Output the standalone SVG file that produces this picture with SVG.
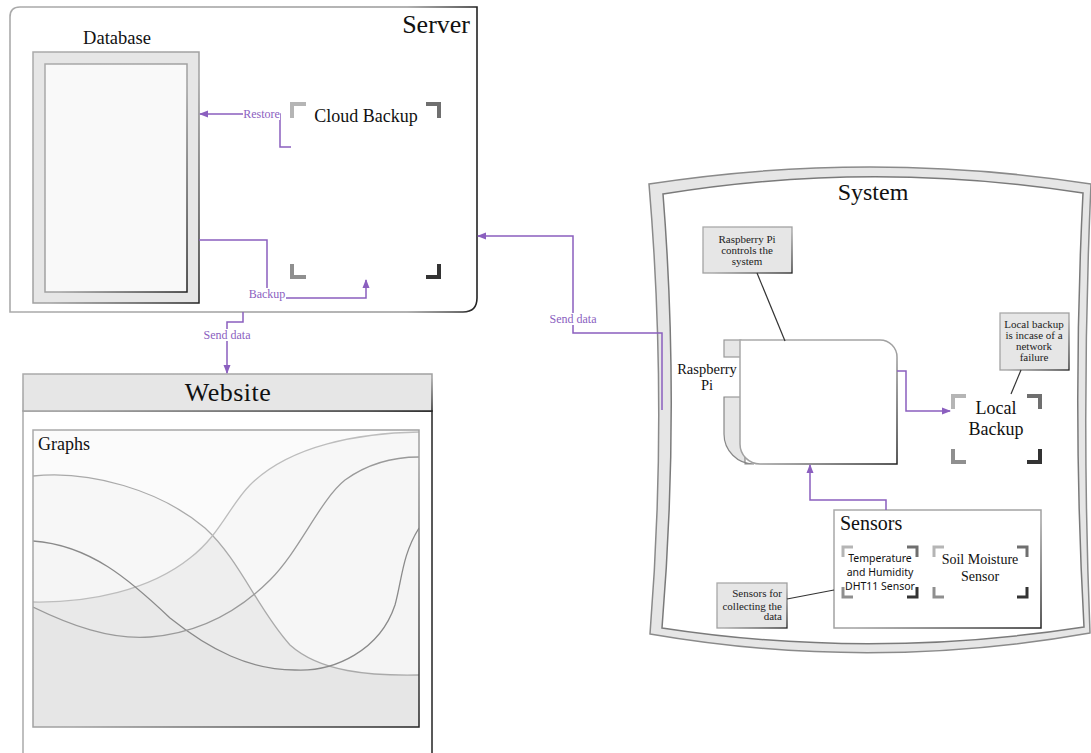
<svg xmlns="http://www.w3.org/2000/svg" width="1091" height="753" viewBox="0 0 1091 753">
<style>
.serif{font-family:"Liberation Serif","DejaVu Serif",serif;fill:#111}
.sans{font-family:"Noto Sans","Open Sans","DejaVu Sans",sans-serif;fill:#111}
.lbl{font-family:"Liberation Serif","DejaVu Serif",serif;fill:#8b5fbf;font-size:12px;text-anchor:middle}
.conn{fill:none;stroke:#8b5fbf;stroke-width:1.5}
.box{fill:#e6e6e6;stroke:url(#edge);stroke-width:1.5}
.call{fill:#e6e6e6;stroke:url(#edge);stroke-width:1.3}
.ctext{font-family:"Liberation Serif","DejaVu Serif",serif;fill:#222;font-size:11px}
.br{fill:none;stroke-width:4;stroke-linecap:butt}
.brs{fill:none;stroke-width:3}
.lead{stroke:#333;stroke-width:1.2;fill:none}
.curve{fill:none;stroke-width:1.3}
</style>
<defs>
<linearGradient id="edge" x1="0" y1="0" x2="1" y2="1">
<stop offset="0" stop-color="#aaa"/><stop offset="0.55" stop-color="#a0a0a0"/><stop offset="1" stop-color="#222"/>
</linearGradient>
<linearGradient id="edgeH" x1="0" y1="0" x2="1" y2="0">
<stop offset="0" stop-color="#aaa"/><stop offset="0.85" stop-color="#999"/><stop offset="1" stop-color="#222"/>
</linearGradient>
<marker id="arr" markerWidth="9" markerHeight="8" refX="8" refY="4" orient="auto" markerUnits="userSpaceOnUse">
<path d="M0,0.5 L9,4 L0,7.5 Z" fill="#8b5fbf"/>
</marker>
<clipPath id="gclip"><rect x="33" y="430" width="386" height="297"/></clipPath>
</defs>
<rect width="1091" height="753" fill="#fff"/>

<g id="server">
<path d="M10,312 V17 Q10,7 20,7 H477 V298 Q477,312 463,312 Z" fill="#fff" stroke="url(#edgeH)" stroke-width="1.6"/>
<text class="serif" x="470" y="33" font-size="26" text-anchor="end">Server</text>
</g>

<g id="database">
<text class="serif" x="117" y="44" font-size="18.5" text-anchor="middle">Database</text>
<rect x="33" y="52" width="166" height="251" class="box"/>
<rect x="45" y="64" width="142" height="228" fill="#f9f9f9" stroke="url(#edge)" stroke-width="1.5"/>
</g>

<g id="cloud-backup">
<path class="br" d="M292,118 V104 H306" stroke="#b5b5b5"/>
<path class="br" d="M426,104 H439 V118" stroke="#6f6f6f"/>
<path class="br" d="M292,264 V277 H306" stroke="#8f8f8f"/>
<path class="br" d="M426,277 H439 V264" stroke="#333"/>
<text class="serif" x="366" y="122" font-size="18" text-anchor="middle">Cloud Backup</text>
</g>

<g id="website">
<rect x="23" y="411" width="409" height="360" fill="#fff" stroke="url(#edgeH)" stroke-width="1.5"/>
<rect x="23" y="374" width="409" height="37" class="box"/>
<text class="serif" x="228" y="401" font-size="26" text-anchor="middle" letter-spacing="0.5">Website</text>
</g>

<g id="graphs">
<rect x="33" y="430" width="386" height="297" fill="#e6e6e6"/>
<g clip-path="url(#gclip)">
<path d="M33,430 V476 C90,470 160,490 205,528 C240,560 258,610 290,645 C320,672 370,676 419,675 V430 Z" fill="#fff" fill-opacity="0.55"/>
<path d="M33,430 V602 C90,603 150,590 190,558 C220,535 230,505 250,485 C290,445 360,433 419,432 V430 Z" fill="#fff" fill-opacity="0.55"/>
<path d="M33,430 V541 C90,545 130,580 170,618 C210,650 250,670 295,670 C335,672 380,650 395,605 C402,580 402,555 419,528 V430 Z" fill="#fff" fill-opacity="0.2"/>
<path d="M33,430 V607 C70,625 110,640 150,637 C200,633 240,610 270,580 C300,550 320,500 345,480 C370,462 395,457 419,457 V430 Z" fill="#fff" fill-opacity="0.15"/>
<path class="curve" d="M33,476 C90,470 160,490 205,528 C240,560 258,610 290,645 C320,672 370,676 419,675" stroke="#aaa"/>
<path class="curve" d="M33,602 C90,603 150,590 190,558 C220,535 230,505 250,485 C290,445 360,433 419,432" stroke="#bdbdbd"/>
<path class="curve" d="M33,541 C90,545 130,580 170,618 C210,650 250,670 295,670 C335,672 380,650 395,605 C402,580 402,555 419,528" stroke="#8a8a8a"/>
<path class="curve" d="M33,607 C70,625 110,640 150,637 C200,633 240,610 270,580 C300,550 320,500 345,480 C370,462 395,457 419,457" stroke="#9a9a9a"/>
</g>
<rect x="33" y="430" width="386" height="297" fill="none" stroke="url(#edge)" stroke-width="1.5"/>
<text class="serif" x="38" y="450" font-size="18">Graphs</text>
</g>

<g id="system">
<path d="M649,184 Q870,150 1091,184 Q1081,408 1090,633 Q870,672 650,634 Q668,408 649,184 Z" fill="#e6e6e6" stroke="#8a8a8a" stroke-width="1.5"/>
<path d="M663,194 Q871,160 1083,193 Q1072,410 1084,627 Q870,660 662,628 Q680,408 663,194 Z" fill="#fff" stroke="#7a7a7a" stroke-width="1.5"/>
<text class="serif" x="873" y="200" font-size="24" text-anchor="middle">System</text>
</g>

<g id="raspberry-pi">
<rect x="724" y="340" width="17" height="17" fill="#e6e6e6" stroke="#999" stroke-width="1.2"/>
<path d="M724,397 H745 V464 H754 A30,30 0 0 1 724,434 Z" fill="#e6e6e6" stroke="#888" stroke-width="1.2"/>
<path d="M740,340 H880 A17,17 0 0 1 897,357 V464 H760 A20,20 0 0 1 740,444 Z" fill="#fff" stroke="url(#edge)" stroke-width="1.5"/>
<text class="serif" x="707" y="374" font-size="14.5" text-anchor="middle">Raspberry</text>
<text class="serif" x="707" y="390" font-size="14.5" text-anchor="middle">Pi</text>
</g>

<g id="note-pi">
<rect x="703" y="227" width="89" height="46" class="call"/>
<text class="ctext" text-anchor="middle" x="747" y="243">Raspberry Pi</text>
<text class="ctext" text-anchor="middle" x="747" y="254">controls the</text>
<text class="ctext" text-anchor="middle" x="747" y="265">system</text>
<path class="lead" d="M757,273 L785,341"/>
</g>

<g id="local-backup">
<path class="br" d="M953,409 V396 H966" stroke="#b5b5b5"/>
<path class="br" d="M1027,396 H1040 V409" stroke="#6f6f6f"/>
<path class="br" d="M953,449 V462 H966" stroke="#8f8f8f"/>
<path class="br" d="M1027,462 H1040 V449" stroke="#333"/>
<text class="serif" x="996" y="414" font-size="18" text-anchor="middle">Local</text>
<text class="serif" x="996" y="435" font-size="18" text-anchor="middle">Backup</text>
</g>

<g id="note-local">
<rect x="1000" y="313" width="69" height="57" class="call"/>
<text class="ctext" text-anchor="middle" x="1034" y="327.5" font-size="10.5">Local backup</text>
<text class="ctext" text-anchor="middle" x="1034" y="339" font-size="10.5">is incase of a</text>
<text class="ctext" text-anchor="middle" x="1034" y="350" font-size="10.5">network</text>
<text class="ctext" text-anchor="middle" x="1034" y="361" font-size="10.5">failure</text>
<path class="lead" d="M1021,370 L1011,394" stroke="#666"/>
</g>

<g id="sensors">
<rect x="834" y="510" width="207" height="118" fill="#fff" stroke="url(#edge)" stroke-width="1.5"/>
<text class="serif" x="840" y="530" font-size="20">Sensors</text>
</g>

<g id="temp-sensor">
<path class="brs" d="M843,557 V547 H853" stroke="#b5b5b5"/>
<path class="brs" d="M907,547 H917 V557" stroke="#6f6f6f"/>
<path class="brs" d="M843,587 V597 H853" stroke="#8f8f8f"/>
<path class="brs" d="M907,597 H917 V587" stroke="#333"/>
<text class="sans" x="880" y="562" font-size="10.5" text-anchor="middle">Temperature</text>
<text class="sans" x="880" y="576" font-size="10.5" text-anchor="middle">and Humidity</text>
<text class="sans" x="880" y="590" font-size="10.5" text-anchor="middle">DHT11 Sensor</text>
</g>

<g id="soil-sensor">
<path class="brs" d="M934,557 V547 H944" stroke="#b5b5b5"/>
<path class="brs" d="M1017,547 H1027 V557" stroke="#6f6f6f"/>
<path class="brs" d="M934,587 V597 H944" stroke="#8f8f8f"/>
<path class="brs" d="M1017,597 H1027 V587" stroke="#333"/>
<text class="serif" x="980" y="564" font-size="14" text-anchor="middle">Soil Moisture</text>
<text class="serif" x="980" y="581" font-size="14" text-anchor="middle">Sensor</text>
</g>

<g id="note-sensors">
<rect x="717" y="583" width="70" height="45" class="call"/>
<text class="ctext" text-anchor="end" x="782" y="597">Sensors for</text>
<text class="ctext" text-anchor="end" x="782" y="609.5">collecting the</text>
<text class="ctext" text-anchor="end" x="782" y="620">data</text>
<path class="lead" d="M787,599 L834,590"/>
</g>

<g id="connectors">
<path class="conn" d="M291,147 H280 V114 H200" marker-end="url(#arr)"/>
<path class="conn" d="M199,240 H267 V298 H366 V280" marker-end="url(#arr)"/>
<path class="conn" d="M243,312 V322 H227 V373" marker-end="url(#arr)"/>
<path class="conn" d="M662,410 V333 H573 V236 H478" marker-end="url(#arr)"/>
<path class="conn" d="M897,371 H906 V411 H950" marker-end="url(#arr)"/>
<path class="conn" d="M886,510 V500 H810 V465" marker-end="url(#arr)"/>
<rect x="243" y="108" width="37" height="12" fill="#fff"/>
<text class="lbl" x="261.5" y="118">Restore</text>
<rect x="249" y="288" width="37" height="13" fill="#fff"/>
<text class="lbl" x="267" y="298">Backup</text>
<rect x="203" y="329" width="49" height="12" fill="#fff"/>
<text class="lbl" x="227" y="339">Send data</text>
<rect x="548" y="313" width="50" height="12" fill="#fff"/>
<text class="lbl" x="573" y="323">Send data</text>
</g>
</svg>
